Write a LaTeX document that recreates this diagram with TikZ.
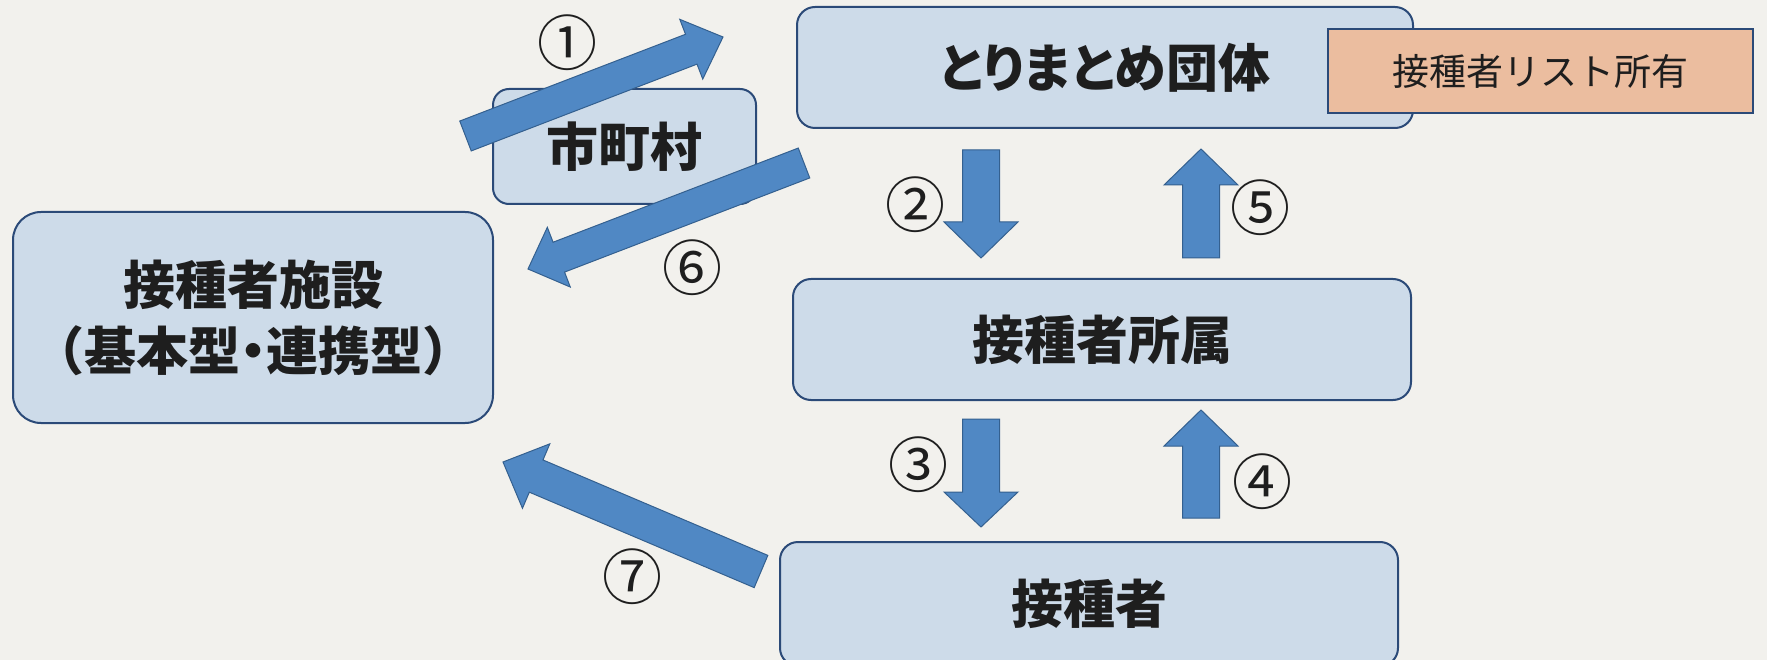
\documentclass[tikz,border=0pt]{standalone}
\usepackage{fontspec}
\newfontfamily\cjk{Noto Sans CJK JP}
\usetikzlibrary{calc}
\definecolor{paper}{HTML}{F2F1ED}
\definecolor{boxfill}{HTML}{CDDBE9}
\definecolor{boxline}{HTML}{2B4A78}
\definecolor{arrfill}{HTML}{5088C4}
\definecolor{arrline}{HTML}{34608F}
\definecolor{listfill}{HTML}{EBBD9F}
\definecolor{ink}{HTML}{1E1E1E}
\newcommand\blockarr[5]{%
  \coordinate (ba-b) at ($(#2)!#5!(#1)$);
  \draw[arr] ($(#1)!#3!90:(#2)$) -- ($(ba-b)!#3!90:(#2)$) -- ($(ba-b)!#4!90:(#2)$) -- (#2)
    -- ($(ba-b)!#4!-90:(#2)$) -- ($(ba-b)!#3!-90:(#2)$) -- ($(#1)!#3!-90:(#2)$) -- cycle;}
\begin{document}
\begin{tikzpicture}[x=1pt,y=-1pt,
  box/.style={draw=boxline,line width=2pt,fill=boxfill,text=ink,inner sep=0pt,
    font=\cjk\bfseries\fontsize{52}{66}\selectfont,align=center},
  listbox/.style={draw=boxline,line width=1.6pt,fill=listfill,text=ink,inner sep=0pt,
    font=\cjk\fontsize{37}{40}\selectfont},
  num/.style={text=ink,inner sep=0pt,font=\cjk\fontsize{60}{60}\selectfont},
  arr/.style={fill=arrfill,draw=arrline,line width=1pt,line join=miter}]
\useasboundingbox (0,0) rectangle (1767,660);
\fill[paper] (0,0) rectangle (1767,660);
\begin{scope}
\clip (0,0) rectangle (1767,660);
% boxes
\node[box,minimum width=480,minimum height=211,rounded corners=28] (hosp) at (253,317.5)
  {接種者施設\\{\addfontfeatures{RawFeature=+halt}（基本型・連携型）}};
\node[box,minimum width=263,minimum height=115,rounded corners=16] (city) at (624.5,146.5) {市町村};
\node[box,minimum width=616,minimum height=121,rounded corners=18] (org) at (1105,67.5)
  {\addfontfeatures{RawFeature=+palt}とりまとめ団体};
\node[listbox,minimum width=425,minimum height=84] (list) at (1540.5,71) {接種者リスト所有};
\node[box,minimum width=618,minimum height=121,rounded corners=18] (aff) at (1102,339.5) {接種者所属};
\node[box,minimum width=618,minimum height=124,rounded corners=18] (vac) at (1089,604) {接種者};
% arrow end points
\coordinate (a1t) at (465.5,136);  \coordinate (a1h) at (723,37);
\coordinate (a6t) at (804,163);    \coordinate (a6h) at (528,269);
\coordinate (a7t) at (761,571.5);  \coordinate (a7h) at (503,462);
\coordinate (a2t) at (981,150);    \coordinate (a2h) at (981,258);
\coordinate (a5t) at (1201,258);   \coordinate (a5h) at (1201,149);
\coordinate (a3t) at (981,419);    \coordinate (a3h) at (981,527);
\coordinate (a4t) at (1201,518);   \coordinate (a4h) at (1201,410);
\blockarr{a1t}{a1h}{16pt}{32pt}{34pt}
\blockarr{a6t}{a6h}{16pt}{32pt}{33pt}
\blockarr{a7t}{a7h}{17.5pt}{35pt}{36pt}
\blockarr{a2t}{a2h}{18.5pt}{37pt}{36pt}
\blockarr{a5t}{a5h}{18.5pt}{37pt}{36pt}
\blockarr{a3t}{a3h}{18.5pt}{37pt}{35pt}
\blockarr{a4t}{a4h}{18.5pt}{37pt}{36pt}
% step numbers
\node[num] (n1) at (567.5,43) {①};
\node[num] (n2) at (915,205) {②};
\node[num] (n3) at (918,465) {③};
\node[num] (n4) at (1262,482) {④};
\node[num] (n5) at (1260,208) {⑤};
\node[num] (n6) at (692,268) {⑥};
\node[num] (n7) at (632,577) {⑦};
\end{scope}
\end{tikzpicture}
\end{document}
